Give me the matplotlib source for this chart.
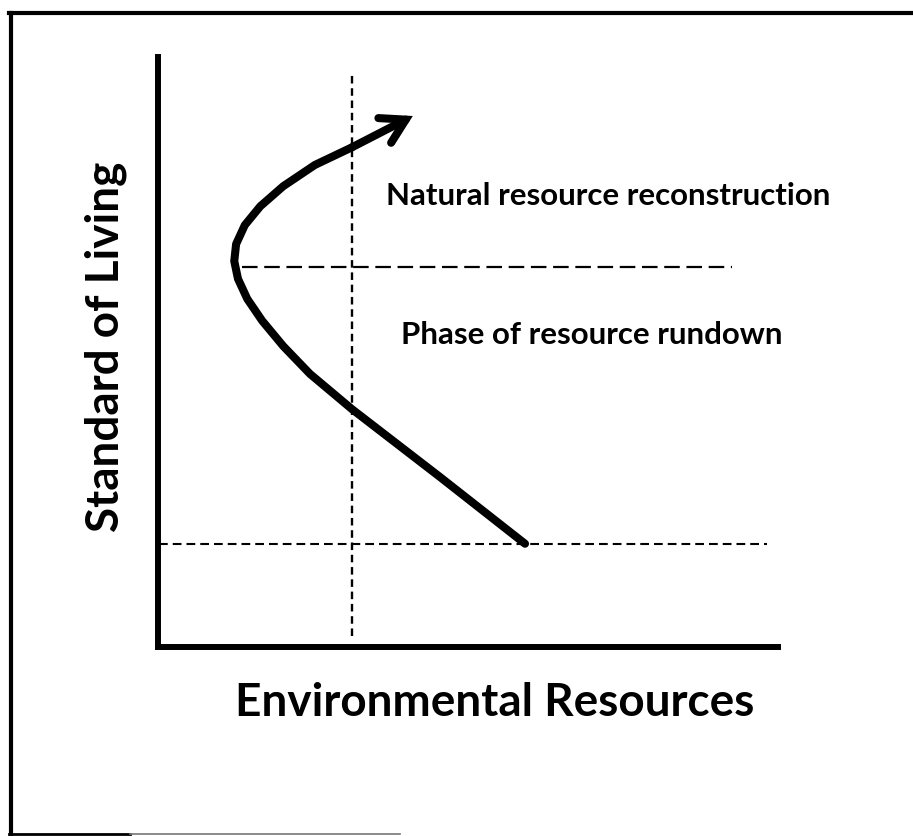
import matplotlib.pyplot as plt
from matplotlib.lines import Line2D

# path of the standard-of-living curve (axes units, 0-10)
path_x = [5.92, 4.55, 3.13, 2.45, 2.02, 1.68, 1.44, 1.29, 1.23, 1.26, 1.40, 1.65, 2.02, 2.53, 3.13, 4.11]
path_y = [1.75, 2.88, 4.03, 4.63, 5.10, 5.53, 5.90, 6.24, 6.54, 6.83, 7.15, 7.47, 7.81, 8.17, 8.47, 9.00]

# reference lines
turn_level = 6.44       # dashed line at the turning point
start_level = 1.75      # dotted line at the starting point
threshold_x = 3.13      # vertical dotted line

x_label = "Environmental Resources"
y_label = "Standard of Living"
upper_label = "Natural resource reconstruction"
lower_label = "Phase of resource rundown"

W, H = 913, 837
fig = plt.figure(figsize=(W / 100, H / 100), dpi=100)
fig.patch.set_facecolor("white")


def fx(px):
    return px / W


def fy(py):
    return 1 - py / H


# frame around the picture
fig.add_artist(Line2D([fx(11), fx(11)], [fy(14), fy(835)], color="black", lw=3, transform=fig.transFigure))
fig.add_artist(Line2D([fx(9), fx(913)], [fy(14), fy(14)], color="black", lw=3, transform=fig.transFigure))
fig.add_artist(Line2D([fx(9), fx(130)], [fy(835), fy(835)], color="black", lw=2, transform=fig.transFigure))
fig.add_artist(Line2D([fx(130), fx(400)], [fy(835), fy(835)], color="#777777", lw=1.2, transform=fig.transFigure))

ax = fig.add_axes([fx(158), fy(648), fx(778) - fx(158), fy(58) - fy(648)])
ax.set_xlim(0, 10)
ax.set_ylim(0, 10)
for side in ["top", "right"]:
    ax.spines[side].set_visible(False)
for side in ["left", "bottom"]:
    ax.spines[side].set_linewidth(4.3)
    ax.spines[side].set_capstyle("projecting")
ax.set_xticks([])
ax.set_yticks([])
ax.patch.set_alpha(0)

# guide lines
ax.plot([threshold_x, threshold_x], [0.19, 9.75], color="black", lw=1.7, ls=(0, (3.2, 2.0)))
ax.plot([1.35, 9.26], [turn_level, turn_level], color="black", lw=1.6, ls=(0, (7, 3)))
ax.plot([0.02, 9.82], [start_level, start_level], color="black", lw=1.5, ls=(0, (4.2, 2.4)))

# curve with arrow head
ax.plot(path_x[:-1], path_y[:-1], color="black", lw=5.8,
        solid_joinstyle="round", solid_capstyle="round")
ax.annotate("", xy=(path_x[-1], path_y[-1]), xytext=(path_x[-2], path_y[-2]),
            arrowprops=dict(arrowstyle="->, head_length=0.85, head_width=0.5",
                            lw=5.8, color="black", shrinkA=0, shrinkB=0,
                            mutation_scale=20, capstyle="round", joinstyle="miter"))

font = ["Lato", "DejaVu Sans"]
fig.text(fx(608), fy(196), upper_label, ha="center", va="center",
         fontsize=22.5, fontweight="bold", family=font)
fig.text(fx(592), fy(335), lower_label, ha="center", va="center",
         fontsize=22.5, fontweight="bold", family=font)
fig.text(fx(495), fy(703), x_label, ha="center", va="center",
         fontsize=33, fontweight="bold", family=font)
fig.text(fx(106), fy(347), y_label, ha="center", va="center", rotation=90,
         fontsize=33, fontweight="bold", family=font)

fig.savefig("out.png", dpi=100, facecolor="white")
